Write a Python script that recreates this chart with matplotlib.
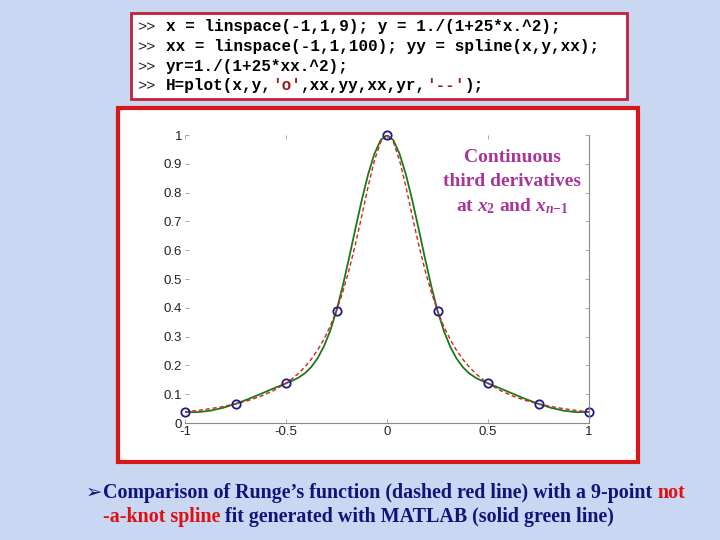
import numpy as np
import matplotlib
matplotlib.use('Agg')
import matplotlib.pyplot as plt
from matplotlib.patches import Rectangle

# slide: MATLAB spline vs Runge's function

# knots
x_knots = [-1, -0.75, -0.5, -0.25, 0, 0.25, 0.5, 0.75, 1]
y_knots = [0.0385, 0.0664, 0.1379, 0.3902, 1.0, 0.3902, 0.1379, 0.0664, 0.0385]

# sample positions along the curves
x_curve = [-1, -0.9375, -0.875, -0.8125, -0.75, -0.6875, -0.625, -0.5625,
           -0.5, -0.46875, -0.4375, -0.40625, -0.375, -0.34375, -0.3125, -0.28125,
           -0.25, -0.21875, -0.1875, -0.15625,
           -0.125, -0.09375, -0.0625, -0.03125, 0,
           0.03125, 0.0625, 0.09375, 0.125, 0.15625, 0.1875, 0.21875, 0.25,
           0.28125, 0.3125, 0.34375, 0.375, 0.40625, 0.4375, 0.46875, 0.5,
           0.5625, 0.625, 0.6875, 0.75, 0.8125, 0.875, 0.9375, 1]

# solid green: not-a-knot spline
y_spline = [0.0385, 0.0376, 0.0427, 0.0526, 0.0664, 0.0829, 0.1010, 0.1197,
            0.1379, 0.1469, 0.1578, 0.1728, 0.1943, 0.2245, 0.2657, 0.3202,
            0.3902, 0.4766, 0.5740, 0.6753,
            0.7737, 0.8624, 0.9342, 0.9824, 1.0,
            0.9824, 0.9342, 0.8624, 0.7737, 0.6753, 0.5740, 0.4766, 0.3902,
            0.3202, 0.2657, 0.2245, 0.1943, 0.1728, 0.1578, 0.1469, 0.1379,
            0.1197, 0.1010, 0.0829, 0.0664, 0.0526, 0.0427, 0.0376, 0.0385]

# dashed red: Runge's function
y_runge = [0.0385, 0.0435, 0.0497, 0.0571, 0.0664, 0.0780, 0.0929, 0.1122,
           0.1379, 0.1540, 0.1729, 0.1951, 0.2215, 0.2529, 0.2906, 0.3359,
           0.3902, 0.4553, 0.5322, 0.6210,
           0.7191, 0.8199, 0.9110, 0.9762, 1.0,
           0.9762, 0.9110, 0.8199, 0.7191, 0.6210, 0.5322, 0.4553, 0.3902,
           0.3359, 0.2906, 0.2529, 0.2215, 0.1951, 0.1729, 0.1540, 0.1379,
           0.1122, 0.0929, 0.0780, 0.0664, 0.0571, 0.0497, 0.0435, 0.0385]

x_ticks = [-1, -0.5, 0, 0.5, 1]
x_ticklabels = ['-1', '-0.5', '0', '0.5', '1']
y_ticks = [0, 0.1, 0.2, 0.3, 0.4, 0.5, 0.6, 0.7, 0.8, 0.9, 1]
y_ticklabels = ['0', '0.1', '0.2', '0.3', '0.4', '0.5', '0.6', '0.7', '0.8', '0.9', '1']

code_lines = [
    [("x = linspace(-1,1,9); y = 1./(1+25*x.^2);", 'k')],
    [("xx = linspace(-1,1,100); yy = spline(x,y,xx);", 'k')],
    [("yr=1./(1+25*xx.^2);", 'k')],
    [("H=plot(x,y,", 'k'), ("'o'", '#a01c1c'), (",xx,yy,xx,yr,", 'k'),
     ("'--'", '#a01c1c'), (");", 'k')],
]

caption_lines = [
    [("Comparison of Runge\u2019s function (dashed red line) with a 9-point", '#12127a'),
     ("not", '#e01010')],
    [("-a-knot spline", '#e01010'),
     ("fit generated with MATLAB (solid green line)", '#12127a')],
]

plt.rcParams['mathtext.fontset'] = 'custom'
plt.rcParams['mathtext.rm'] = 'Liberation Serif:bold'
plt.rcParams['mathtext.it'] = 'Liberation Serif:italic:bold'

W, H = 720, 540
fig = plt.figure(figsize=(7.2, 5.4), dpi=100)
fig.patch.set_facecolor('#c9d7f2')


def px(x, y):
    # pixel coords (top-left origin) -> figure fraction
    return x / W, 1 - y / H


# code box
fig.patches.append(Rectangle(px(131, 99), 496 / W, 86 / H, transform=fig.transFigure,
                             facecolor='white', edgecolor='#c42038', linewidth=2,
                             zorder=-1))
# plot box
fig.patches.append(Rectangle(px(118, 462), 520 / W, 354 / H, transform=fig.transFigure,
                             facecolor='white', edgecolor='#d81818', linewidth=3,
                             zorder=-1))

renderer = fig.canvas.get_renderer()


def place_segments(x0, y0, segments, gap=0, **kw):
    x = x0
    for text, color in segments:
        t = fig.text(*px(x, y0), text, color=color, va='baseline', ha='left', **kw)
        bb = t.get_window_extent(renderer)
        x += bb.width + gap


code_y = [31, 51, 71, 90]
for yy, segs in zip(code_y, code_lines):
    fig.text(*px(137, yy), '>>', family='Liberation Mono', fontsize=11,
             va='baseline', ha='left', color='#222222')
    place_segments(166, yy, segs, family='Liberation Mono', fontsize=11.5,
                   weight='bold')

# axes
ax = fig.add_axes([185 / W, 1 - 423 / H, 404 / W, 288 / H])
ax.set_zorder(2)
ax.set_facecolor('white')
ax.plot(x_curve, y_spline, '-', color='#1a7a1a', lw=1.3)
ax.plot(x_curve, y_runge, '--', color='#d42020', lw=1.0, dashes=(3, 2))
ax.plot(x_knots, y_knots, 'o', mfc='none', mec='#1c1c8a', ms=6, mew=1.3, clip_on=False)
ax.set_xlim(-1, 1)
ax.set_ylim(0, 1)
ax.set_xticks(x_ticks)
ax.set_xticklabels(x_ticklabels)
ax.set_yticks(y_ticks)
ax.set_yticklabels(y_ticklabels)
for s in ['left', 'top']:
    ax.spines[s].set_visible(False)
for s in ['bottom', 'right']:
    ax.spines[s].set_color('#8a8a8a')
    ax.spines[s].set_linewidth(0.8)
ax.tick_params(direction='in', length=3, width=0.6, color='#9a9a9a',
               labelsize=9.5, labelcolor='#222222', pad=2,
               top=True, right=True)
for lab in ax.get_xticklabels() + ax.get_yticklabels():
    lab.set_family('Liberation Sans')

ann_kw = dict(color='#a8359a', fontsize=14, family='Liberation Serif',
              weight='bold', ha='center', va='center', zorder=3)
fig.text(*px(512, 158), 'Continuous', **ann_kw)
fig.text(*px(512, 182), 'third derivatives', **ann_kw)
fig.text(*px(512, 206), r'at $x_2$ and $x_{n\mathit{-1}}$', **ann_kw)

# caption
fig.text(*px(86, 492), '\u27a2', color='#12127a', fontsize=14,
         family='DejaVu Sans', va='center', ha='left')
cap_kw = dict(family='Liberation Serif', weight='bold', fontsize=14.4)
sp = fig.text(0, 0, 'a a', **cap_kw)
sp2 = fig.text(0, 0, 'aa', **cap_kw)
space_w = sp.get_window_extent(renderer).width - sp2.get_window_extent(renderer).width
sp.remove()
sp2.remove()
place_segments(103, 498, caption_lines[0], gap=space_w, **cap_kw)
place_segments(103, 522, caption_lines[1], gap=space_w, **cap_kw)

fig.savefig('out.png', dpi=100, facecolor=fig.get_facecolor())
